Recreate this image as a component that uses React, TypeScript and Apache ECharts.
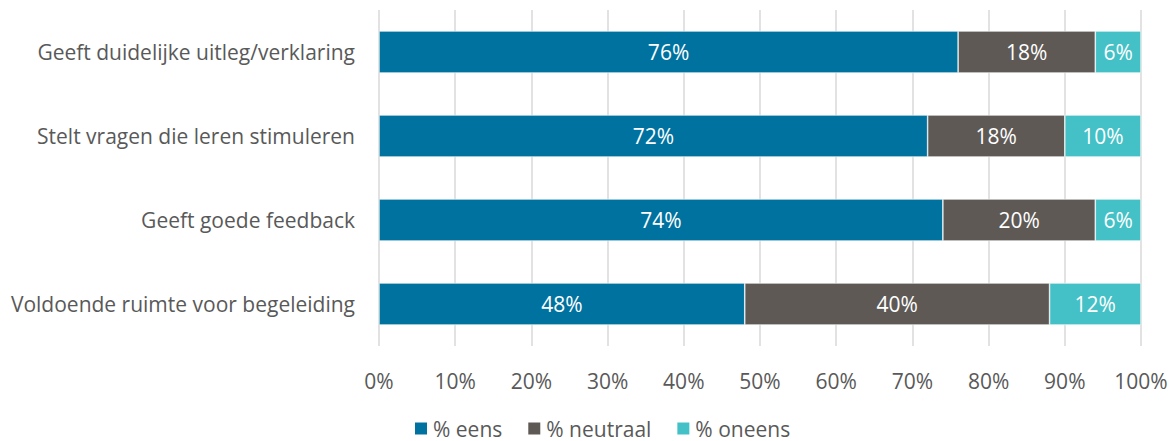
import React, { useEffect, useRef } from "react";
import * as echarts from "echarts";

const categories = [
  "Geeft duidelijke uitleg/verklaring",
  "Stelt vragen die leren stimuleren",
  "Geeft goede feedback",
  "Voldoende ruimte voor begeleiding",
];
const eens = [76, 72, 74, 48];
const neutraal = [18, 18, 20, 40];
const oneens = [6, 10, 6, 12];
const seriesNames = ["% eens", "% neutraal", "% oneens"];
const colors = ["#0072A0", "#5E5955", "#43C1C6"];

const FONT = "'Open Sans', sans-serif";
const FS = 21;

export default function App() {
  const ref = useRef<HTMLDivElement>(null);
  useEffect(() => {
    document.body.style.margin = "0";
    if (!ref.current) return;
    const chart = echarts.init(ref.current, undefined, { renderer: "svg" });
    const mk = (name: string, data: number[], color: string) => ({
      name,
      type: "bar",
      stack: "total",
      data,
      barWidth: 42,
      itemStyle: { color, borderColor: "#ffffff", borderWidth: 0.6 },
      label: {
        show: true,
        position: "inside",
        formatter: "{c}%",
        color: "#ffffff",
        fontSize: FS,
        fontFamily: FONT,
      },
    });
    chart.setOption({
      animation: false,
      textStyle: { fontFamily: FONT },
      grid: { left: 379, right: 34, top: 10, bottom: 95, containLabel: false },
      legend: {
        top: 418,
        left: 413,
        itemWidth: 14,
        itemHeight: 14,
        itemGap: 24,
        itemTextGap: 5,
        padding: 0,
        icon: "rect",
        textStyle: { color: "#595959", fontSize: FS, fontFamily: FONT, lineHeight: 20 },
        data: seriesNames,
      },
      xAxis: {
        type: "value",
        min: 0,
        max: 100,
        interval: 10,
        axisLine: { show: false },
        axisTick: { show: false },
        splitLine: { show: true, lineStyle: { color: "#D9D9D9", width: 1.5 } },
        axisLabel: {
          formatter: "{value}%",
          color: "#595959",
          fontSize: FS,
          fontFamily: FONT,
          margin: 24,
        },
      },
      yAxis: {
        type: "category",
        data: categories,
        inverse: true,
        axisLine: { show: false },
        axisTick: { show: false },
        axisLabel: {
          color: "#595959",
          fontSize: FS,
          fontFamily: FONT,
          margin: 24,
        },
      },
      series: [
        mk(seriesNames[0], eens, colors[0]),
        mk(seriesNames[1], neutraal, colors[1]),
        mk(seriesNames[2], oneens, colors[2]),
      ],
    });
    return () => chart.dispose();
  }, []);
  return <div ref={ref} style={{ width: 1175, height: 441 }} />;
}
